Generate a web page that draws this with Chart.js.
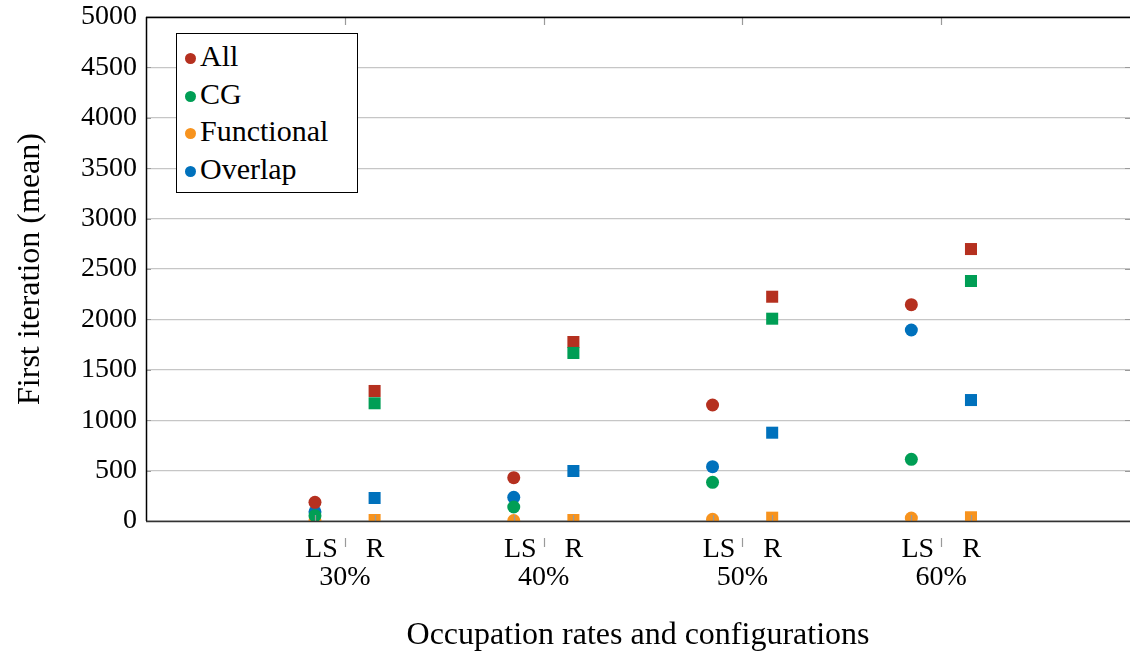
<!DOCTYPE html>
<html>
<head>
<meta charset="utf-8">
<script src="https://cdn.jsdelivr.net/npm/chart.js@4.4.0/dist/chart.umd.min.js"></script>
<style>
  html, body { margin: 0; padding: 0; background: #fff; overflow: hidden; }
  #wrap { position: relative; width: 1131px; height: 657px; }
  #legend {
    position: absolute; left: 176px; top: 33px; width: 180px; height: 158px;
    border: 1px solid #000; background: #fff;
    font-family: "Liberation Serif", serif; font-size: 30px; color: #000;
  }
  #legend .row { position: absolute; left: 8px; height: 32px; line-height: 32px; white-space: nowrap; }
  #legend .dot { display: inline-block; width: 11px; height: 11px; border-radius: 50%; margin-right: 4px; vertical-align: 2px; }
</style>
</head>
<body>
<div id="wrap">
  <canvas id="chart" width="1131" height="657"></canvas>
  <div id="legend"></div>
</div>
<script>
// occupation rates (group centres on the x axis)
const rates = [30, 40, 50, 60];
const configs = ['LS', 'R'];

// series names and colours
const seriesNames = ['All', 'CG', 'Functional', 'Overlap'];
const seriesColors = ['#b5301f', '#009e55', '#f7931e', '#0071bc'];

// values per rate: [LS, R]
const allVals        = [[185, 1290], [430, 1776], [1151, 2225], [2146, 2698]];
const cgVals         = [[53, 1168],  [139, 1667], [384, 2007],  [612, 2381]];
const functionalVals = [[5, 10],     [5, 10],     [17, 33],     [30, 37]];
const overlapVals    = [[92, 228],   [235, 496],  [539, 876],   [1895, 1200]];

const seriesVals = [allVals, cgVals, functionalVals, overlapVals];
const drawOrder = [2, 0, 1, 3];   // lower is drawn on top

const offset = 1.5; // LS left of centre, R right of centre
const FONT = '"Liberation Serif", serif';

function toPoints(vals) {
  const pts = [];
  rates.forEach((r, i) => {
    pts.push({ x: r - offset, y: vals[i][0] });
    pts.push({ x: r + offset, y: vals[i][1] });
  });
  return pts;
}

const datasets = seriesNames.map((name, k) => ({
  label: name,
  data: toPoints(seriesVals[k]),
  backgroundColor: seriesColors[k],
  borderColor: seriesColors[k],
  borderWidth: 0,
  pointStyle: rates.flatMap(() => ['circle', 'rect']),
  pointRadius: rates.flatMap(() => [6.5, 8.5]),
  pointHoverRadius: 6.5,
  showLine: false,
  order: drawOrder[k]
}));

// extra tick marks like the original plot
const tickDeco = {
  id: 'tickDeco',
  afterDraw(chart) {
    const { ctx, chartArea: a } = chart;
    const xs = chart.scales.x, ys = chart.scales.y;
    ctx.save();
    ctx.lineWidth = 1.2;
    ctx.strokeStyle = '#9a9a9a';
    ctx.beginPath();
    // y ticks inward
    ys.ticks.forEach(t => {
      const y = Math.round(ys.getPixelForValue(t.value)) + 0.5;
      ctx.moveTo(a.left, y); ctx.lineTo(a.left + 5, y);
      ctx.moveTo(a.right, y); ctx.lineTo(a.right - 5, y);
    });
    rates.forEach(r => {
      const xc = Math.round(xs.getPixelForValue(r)) + 0.5;
      ctx.moveTo(xc, a.top); ctx.lineTo(xc, a.top + 8);
      ctx.moveTo(xc, a.bottom + 17); ctx.lineTo(xc, a.bottom + 26);
      [r - offset, r + offset].forEach(v => {
        const x = Math.round(xs.getPixelForValue(v)) + 0.5;
        ctx.moveTo(x, a.bottom); ctx.lineTo(x, a.bottom - 6);
      });
    });
    ctx.stroke();
    // frame
    ctx.lineWidth = 1.5;
    ctx.strokeStyle = '#000';
    ctx.beginPath();
    ctx.moveTo(a.left, a.top + 0.5); ctx.lineTo(a.right, a.top + 0.5);
    ctx.moveTo(a.left + 0.5, a.top); ctx.lineTo(a.left + 0.5, a.bottom);
    ctx.stroke();
    ctx.strokeStyle = '#333';
    ctx.beginPath();
    ctx.moveTo(a.left, a.bottom + 0.5); ctx.lineTo(a.right, a.bottom + 0.5);
    ctx.stroke();
    ctx.restore();
  }
};

new Chart(document.getElementById('chart'), {
  type: 'scatter',
  data: { datasets },
  options: {
    responsive: false,
    animation: false,
    layout: { autoPadding: false, padding: { left: 0, right: 1, top: 17, bottom: 2 } },
    plugins: { legend: { display: false }, tooltip: { enabled: false } },
    scales: {
      x: {
        type: 'linear',
        min: 20,
        max: 69.5,
        afterBuildTicks: s => { s.ticks = rates.map(v => ({ value: v })); },
        afterFit: s => { s.height = 134; s.paddingLeft = 0; s.paddingRight = 0; },
        grid: { display: false, drawTicks: false },
        border: { display: false },
        ticks: {
          padding: 15,
          maxRotation: 0,
          color: '#000',
          font: { family: FONT, size: 28, lineHeight: 1.0 },
          callback: v => [configs[0] + '    ' + configs[1], v + '%']
        },
        title: {
          display: true,
          text: 'Occupation rates and configurations',
          color: '#000',
          font: { family: FONT, size: 32 },
          padding: { top: 0, bottom: 0 }
        }
      },
      y: {
        min: 0,
        max: 5000,
        afterFit: s => { s.width = 146; s.paddingTop = 0; s.paddingBottom = 0; },
        ticks: {
          stepSize: 500,
          padding: 9,
          color: '#000',
          font: { family: FONT, size: 28 },
          callback: v => String(v)
        },
        grid: { color: '#c6c6c6', lineWidth: 1.3, drawTicks: false },
        border: { display: false },
        title: {
          display: true,
          text: 'First iteration (mean)',
          color: '#000',
          font: { family: FONT, size: 32 },
          padding: { top: 11, bottom: 0 }
        }
      }
    }
  },
  plugins: [tickDeco]
});

// legend as html
const legend = document.getElementById('legend');
seriesNames.forEach((name, k) => {
  const row = document.createElement('div');
  row.className = 'row';
  row.style.top = (6 + k * 37.7) + 'px';
  row.innerHTML = '<span class="dot" style="background:' + seriesColors[k] + '"></span>' + name;
  legend.appendChild(row);
});
</script>
</body>
</html>
